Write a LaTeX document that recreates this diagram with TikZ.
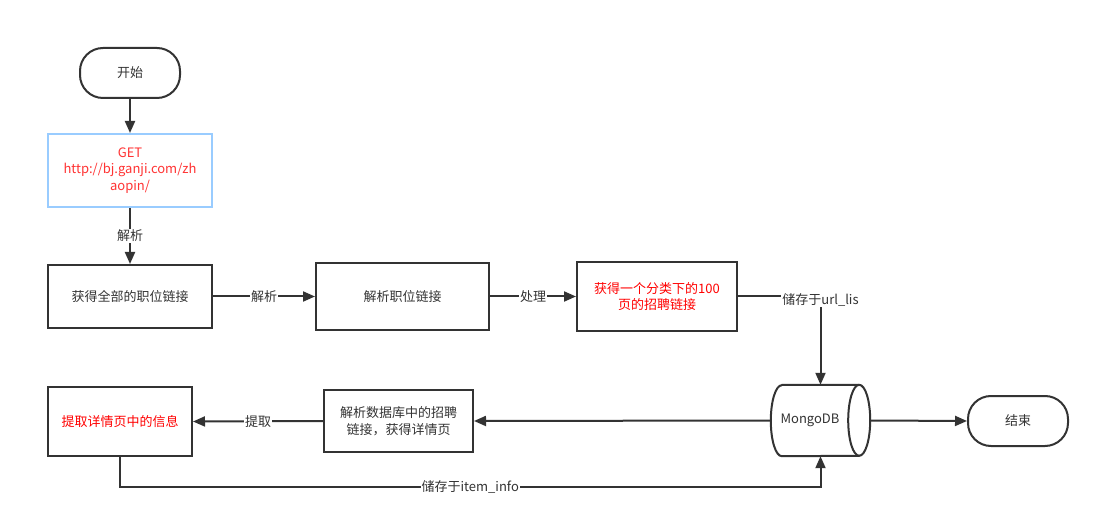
\documentclass[tikz,border=0pt]{standalone}
\usepackage{fontspec}
\setmainfont{Noto Sans CJK SC}
\usetikzlibrary{arrows.meta}
\definecolor{ink}{HTML}{333333}
\definecolor{redtxt}{HTML}{FF0000}
\definecolor{getred}{HTML}{FF3333}
\definecolor{bluebd}{HTML}{99CCFF}
\tikzset{
  every node/.style={font=\fontsize{13}{16.5}\selectfont, text=ink},
  term/.style={draw=ink, line width=2pt, rounded corners=23pt, minimum width=100pt, minimum height=50pt, inner sep=0pt},
  procbox/.style={draw=ink, line width=2pt, inner sep=0pt, align=center},
  arr/.style={draw=ink, line width=2pt, -{Triangle[length=12pt,width=10pt]}},
  lbl/.style={fill=white, inner sep=1pt},
  cyl/.style={draw=ink, line width=2pt, line join=round},
}
\begin{document}
\begin{tikzpicture}[x=1pt,y=-1pt]
\useasboundingbox[fill=white] (0,0) rectangle (1100,518);
\node[term] (start) at (130,73) {开始};
\node[procbox, draw=bluebd, minimum width=164pt, minimum height=73pt, text=getred] (get) at (130,170.5) {GET\\http://bj.ganji.com/zh\\aopin/};
\node[procbox, minimum width=164pt, minimum height=63pt] (all) at (130,296.5) {获得全部的职位链接};
\node[procbox, minimum width=173pt, minimum height=67pt] (parse) at (402.5,296.5) {解析职位链接};
\node[procbox, minimum width=160pt, minimum height=69pt, text=redtxt] (hundred) at (657,296.5) {获得一个分类下的100\\页的招聘链接};
\node[minimum width=99pt, minimum height=71pt, inner sep=0pt] (mongo) at (820.5,420.5) {};
\draw[cyl] ([xshift=11pt]mongo.north west) -- ([xshift=-11pt]mongo.north east)
  arc[start angle=90, end angle=-90, x radius=11pt, y radius=35.5pt]
  -- ([xshift=11pt]mongo.south west)
  arc[start angle=270, end angle=90, x radius=11pt, y radius=35.5pt] -- cycle;
\draw[cyl] ([xshift=-11pt]mongo.north east) arc[start angle=90, end angle=270, x radius=11pt, y radius=35.5pt];
\node at (810,420.5) {MongoDB};
\node[term] (finish) at (1018,421) {结束};
\node[procbox, minimum width=149pt, minimum height=62pt] (dbparse) at (398.5,421) {解析数据库中的招聘\\链接，获得详情页};
\node[procbox, minimum width=144pt, minimum height=69pt, text=redtxt] (extract) at (120,421.5) {提取详情页中的信息};
\coordinate (bl) at (120,487);

\draw[arr] (start) -- (get);
\draw[arr] (get) -- node[lbl]{解析} (all);
\draw[arr] (all) -- node[lbl]{解析} (parse);
\draw[arr] (parse) -- node[lbl]{处理} (hundred);
\draw[arr] (hundred.east) -| node[pos=0.5, lbl, yshift=-3pt]{储存于url\_lis} (mongo.north);
\draw[arr] (mongo.east) -- (finish.west);
\draw[arr] (mongo.west) -- (dbparse.east);
\draw[arr] (dbparse.west) -- node[lbl]{提取} (extract.east);
\draw[arr] (extract.south) -- (bl) -| node[pos=0.25, lbl]{储存于item\_info} (mongo.south);
\end{tikzpicture}
\end{document}
